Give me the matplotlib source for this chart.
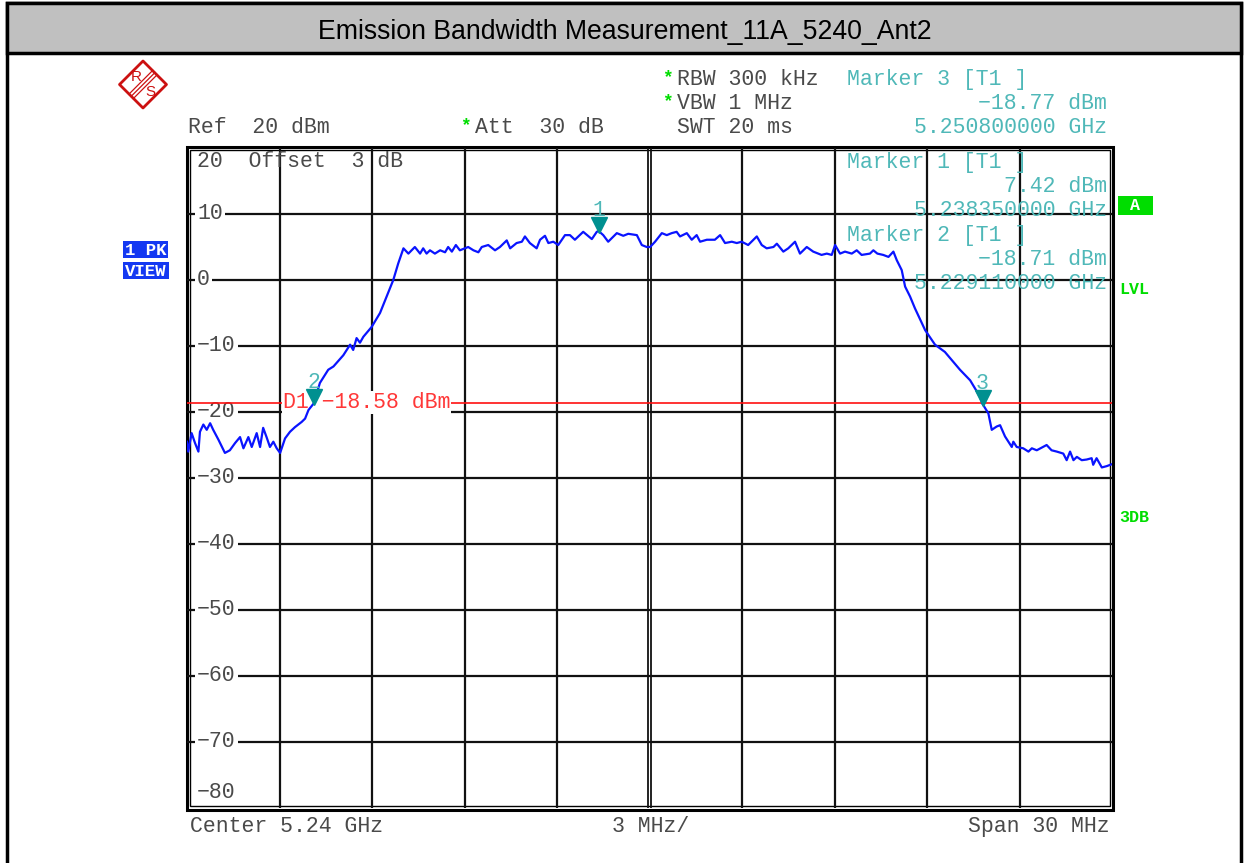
import matplotlib
matplotlib.use('Agg')
import matplotlib.pyplot as plt
import matplotlib.transforms as mtransforms
from matplotlib.patches import Rectangle, Polygon

W, H = 1245, 863

# trace: frequency (MHz) and level (dBm)
freq_mhz = [
    5225.00, 5225.04, 5225.15, 5225.26, 5225.37, 5225.42, 5225.53, 5225.64, 5225.75, 5225.85,
    5226.02, 5226.23, 5226.39, 5226.56, 5226.72, 5226.83, 5226.99, 5227.10, 5227.26, 5227.37,
    5227.47, 5227.58, 5227.69, 5227.80, 5227.91, 5228.02, 5228.18, 5228.34, 5228.50, 5228.72,
    5228.83, 5228.94, 5229.11, 5229.31, 5229.58, 5229.75, 5230.07, 5230.29, 5230.39, 5230.50,
    5230.61, 5230.72, 5230.99, 5231.26, 5231.69, 5231.85,
    5232.02, 5232.18, 5232.39, 5232.56, 5232.66, 5232.77, 5232.88, 5233.04, 5233.21, 5233.37,
    5233.47, 5233.59, 5233.72, 5233.85, 5234.12, 5234.29, 5234.45, 5234.56, 5234.77, 5234.99,
    5235.15, 5235.37, 5235.48, 5235.69, 5235.86, 5235.96, 5236.12, 5236.34, 5236.45, 5236.61,
    5236.72, 5236.88, 5237.04, 5237.26, 5237.42, 5237.58, 5237.85, 5238.13, 5238.29, 5238.35,
    5238.50, 5238.66, 5238.94, 5239.15, 5239.31, 5239.59, 5239.75, 5239.91, 5240.02, 5240.18,
    5240.40, 5240.56, 5240.72, 5240.88, 5240.99, 5241.21, 5241.37, 5241.53, 5241.64, 5241.86,
    5242.12, 5242.29, 5242.45, 5242.67, 5242.83, 5242.99, 5243.20, 5243.48, 5243.64, 5243.80,
    5244.02, 5244.13, 5244.34, 5244.50, 5244.72, 5244.88, 5245.10, 5245.31, 5245.58, 5245.75,
    5245.91, 5246.02, 5246.18, 5246.34, 5246.56, 5246.72, 5246.88, 5247.15, 5247.26, 5247.39,
    5247.58, 5247.75, 5247.91, 5248.02, 5248.18, 5248.29, 5248.45, 5248.61, 5248.94, 5249.26,
    5249.58, 5250.07, 5250.40, 5250.72, 5250.80, 5250.99, 5251.10, 5251.26, 5251.37, 5251.53,
    5251.75, 5251.80, 5251.91, 5252.12, 5252.29, 5252.40, 5252.56, 5252.88, 5253.04, 5253.21,
    5253.42, 5253.53, 5253.64, 5253.75, 5253.86, 5254.02, 5254.18, 5254.34, 5254.39, 5254.50,
    5254.67, 5254.83, 5255.00,
]
level_dbm = [
    -24.5, -26.0, -23.2, -24.7, -26.0, -23.0, -21.9, -22.7, -21.7, -22.7,
    -24.2, -26.2, -25.8, -24.7, -23.8, -25.5, -23.8, -25.3, -23.2, -25.3,
    -22.4, -23.8, -25.3, -24.5, -25.5, -26.2, -24.0, -23.0, -22.3, -21.5,
    -21.0, -19.7, -18.7, -15.6, -13.6, -13.1, -11.4, -9.8, -10.6, -8.8,
    -9.5, -8.6, -7.1, -5.0, 0.0, 2.5,
    4.8, 4.0, 5.0, 4.0, 4.8, 4.0, 4.5, 4.0, 4.5, 4.2,
    5.0, 4.3, 5.3, 4.5, 5.0, 4.5, 4.2, 5.0, 5.3, 4.5,
    5.0, 6.0, 4.8, 5.6, 5.8, 6.6, 5.6, 4.8, 6.1, 6.7,
    5.6, 5.8, 5.3, 6.8, 6.8, 6.1, 7.3, 6.2, 7.3, 7.42,
    6.8, 5.8, 7.1, 6.7, 7.0, 6.8, 5.3, 5.0, 5.0, 5.8,
    7.1, 6.8, 7.1, 7.3, 6.6, 7.1, 6.1, 6.8, 5.8, 6.1,
    6.1, 6.8, 5.6, 5.8, 5.6, 5.8, 5.3, 6.6, 5.3, 4.8,
    5.0, 5.5, 4.3, 4.8, 5.8, 4.0, 5.0, 4.3, 3.8, 4.0,
    3.8, 5.3, 4.0, 4.3, 4.0, 4.5, 3.8, 4.0, 4.5, 4.0,
    3.8, 3.5, 4.3, 3.0, 1.5, -1.0, -2.5, -4.3, -7.6, -9.8,
    -10.9, -13.6, -15.2, -17.7, -18.77, -20.2, -22.7, -22.2, -22.0, -23.7,
    -25.3, -24.5, -25.3, -25.5, -26.0, -25.5, -25.8, -25.0, -25.8, -26.0,
    -26.3, -27.3, -26.0, -27.3, -26.8, -27.3, -27.2, -27.0, -28.0, -27.0,
    -28.4, -28.2, -27.9,
]

marker_ids = ['1', '2', '3']
marker_freq_mhz = [5238.35, 5229.11, 5250.80]
marker_dbm = [7.42, -18.71, -18.77]
d1_dbm = -18.58

x_grid = [5228, 5231, 5234, 5237, 5243, 5246, 5249, 5252]
y_grid = [10, 0, -10, -20, -30, -40, -50, -60, -70]
y_labels = ['10', '0', '\u221210', '\u221220', '\u221230', '\u221240', '\u221250', '\u221260', '\u221270']

title = 'Emission Bandwidth Measurement_11A_5240_Ant2'
mono = 'Liberation Mono'
grey = '#4A4A4A'
cyan = '#4FB8B8'
green = '#00DD00'

fig = plt.figure(figsize=(W / 100, H / 100), dpi=100)

# background axes in pixel coordinates
bg = fig.add_axes([0, 0, 1, 1])
bg.set_xlim(0, W)
bg.set_ylim(H, 0)
bg.axis('off')
pix = bg.transData

bg.add_patch(Rectangle((7, 3), 1234, 880, fc='white', ec='black', lw=2.5))
bg.add_patch(Rectangle((7, 3), 1234, 50, fc='#C0C0C0', ec='black', lw=2.5))
bg.text(625, 32, title, fontsize=19.2, family='Liberation Sans', ha='center', va='center')

# R&S logo
cx, cy, r = 143, 84.5, 23.5
bg.add_patch(Polygon([(cx - r, cy), (cx, cy - r), (cx + r, cy), (cx, cy + r)],
                     closed=True, fc='white', ec='#CC1111', lw=2.0, joinstyle='round'))
for d in (-2.2, 0, 2.2):
    bg.plot([155 + d, 131 + d], [72.5 + d, 96.5 + d], color='#CC1111', lw=0.9)
bg.text(136, 77, 'R', color='#CC1111', fontsize=11, ha='center', va='center', family='Liberation Sans')
bg.text(150, 91.5, 'S', color='#CC1111', fontsize=11, ha='center', va='center', family='Liberation Sans')

# frame around the diagram
bg.add_patch(Rectangle((186.5, 147.5), 926.5, 662, fc='none', ec='black', lw=2.2))
bg.add_patch(Rectangle((189.5, 150.5), 920.5, 655.5, fc='none', ec='black', lw=1.0))

fs = 15.5
# header texts
bg.text(188, 133, 'Ref  20 dBm', family=mono, fontsize=fs, color=grey)
bg.text(460, 126, '*', family=mono, fontsize=13, color=green, fontweight='bold', va='center')
bg.text(475, 133, 'Att  30 dB', family=mono, fontsize=fs, color=grey)
bg.text(662, 78, '*', family=mono, fontsize=13, color=green, fontweight='bold', va='center')
bg.text(677, 85, 'RBW 300 kHz', family=mono, fontsize=fs, color=grey)
bg.text(662, 102, '*', family=mono, fontsize=13, color=green, fontweight='bold', va='center')
bg.text(677, 109, 'VBW 1 MHz', family=mono, fontsize=fs, color=grey)
bg.text(677, 133, 'SWT 20 ms', family=mono, fontsize=fs, color=grey)
bg.text(847, 85, 'Marker 3 [T1 ]', family=mono, fontsize=fs, color=cyan)
bg.text(1107, 109, '\u221218.77 dBm', family=mono, fontsize=fs, color=cyan, ha='right')
bg.text(1107, 133, '5.250800000 GHz', family=mono, fontsize=fs, color=cyan, ha='right')

# footer texts
bg.text(190, 832, 'Center 5.24 GHz', family=mono, fontsize=fs, color=grey)
bg.text(612, 832, '3 MHz/', family=mono, fontsize=fs, color=grey)
bg.text(1110, 832, 'Span 30 MHz', family=mono, fontsize=fs, color=grey, ha='right')

# side labels
bg.add_patch(Rectangle((123, 241), 45, 17, fc='#1438F2', ec='none'))
bg.add_patch(Rectangle((123, 262), 46, 17, fc='#1438F2', ec='none'))
bg.text(145.5, 250, '1 PK', family=mono, fontsize=12.5, color='white', fontweight='bold', ha='center', va='center')
bg.text(146, 271, 'VIEW', family=mono, fontsize=12.5, color='white', fontweight='bold', ha='center', va='center')
bg.add_patch(Rectangle((1118, 196), 35, 19, fc=green, ec='none'))
bg.text(1135.5, 205.5, 'A', family=mono, fontsize=12, color='white', fontweight='bold', ha='center', va='center')
bg.text(1119, 294, 'LVL', family=mono, fontsize=12, color=green, fontweight='bold')
bg.text(1119, 522, '3DB', family=mono, fontsize=12, color=green, fontweight='bold')

# diagram axes
ax = fig.add_axes([187 / W, 1 - 808 / H, (1112 - 187) / W, (808 - 148) / H])
ax.set_facecolor('none')
ax.set_xlim(5225, 5255)
ax.set_ylim(-80, 20)
ax.set_xticks([])
ax.set_yticks([])
for s in ax.spines.values():
    s.set_visible(False)

for xg in x_grid:
    ax.axvline(xg, color='#111111', lw=1.6, zorder=1)
for xg in (5239.94, 5240.06):
    ax.axvline(xg, color='#111111', lw=1.3, zorder=1)
for yg in y_grid:
    ax.axhline(yg, color='#111111', lw=1.6, zorder=1)

ylab_tr = mtransforms.offset_copy(
    mtransforms.blended_transform_factory(ax.transAxes, ax.transData), fig, x=10, y=-5, units='dots')
for yg, lab in zip(y_grid, y_labels):
    ax.text(0, yg, lab, transform=ylab_tr, family=mono, fontsize=fs, color=grey,
            va='baseline', zorder=3, bbox=dict(boxstyle='square,pad=0.1', fc='white', ec='none'))
ax.text(197, 798, '\u221280', transform=pix, family=mono, fontsize=fs, color=grey, zorder=3)
ax.text(197, 167, '20  Offset  3 dB', transform=pix, family=mono, fontsize=fs, color=grey, zorder=3)

# marker info inside the diagram
ax.text(847, 168, 'Marker 1 [T1 ]', transform=pix, family=mono, fontsize=fs, color=cyan, zorder=3)
ax.text(1107, 192, '7.42 dBm', transform=pix, family=mono, fontsize=fs, color=cyan, ha='right', zorder=3)
ax.text(1107, 216, '5.238350000 GHz', transform=pix, family=mono, fontsize=fs, color=cyan, ha='right', zorder=3)
ax.text(847, 241, 'Marker 2 [T1 ]', transform=pix, family=mono, fontsize=fs, color=cyan, zorder=3)
ax.text(1107, 265, '\u221218.71 dBm', transform=pix, family=mono, fontsize=fs, color=cyan, ha='right', zorder=3)
ax.text(1107, 289, '5.229110000 GHz', transform=pix, family=mono, fontsize=fs, color=cyan, ha='right', zorder=3)

# display line D1
ax.axhline(d1_dbm, color='#FF1010', lw=1.2, zorder=3.5)
d1_tr = mtransforms.offset_copy(ax.transData, fig, x=0, y=-5, units='dots')
ax.text(5228.1, d1_dbm, 'D1 \u221218.58 dBm', transform=d1_tr, family=mono, fontsize=fs,
        color='#FF3838', va='baseline', zorder=4,
        bbox=dict(boxstyle='square,pad=0.05', fc='white', ec='none'))

# trace
ax.plot(freq_mhz, level_dbm, color='#0A14FF', lw=1.6, zorder=5)

# markers
tri_tr = mtransforms.offset_copy(ax.transData, fig, x=0, y=6, units='dots')
num_tr = mtransforms.offset_copy(ax.transData, fig, x=0, y=15, units='dots')
for mid, mf, md in zip(marker_ids, marker_freq_mhz, marker_dbm):
    ax.plot([mf], [md], marker='v', ms=11, color='#009090', transform=tri_tr, zorder=6, clip_on=False)
    ax.text(mf, md, mid, transform=num_tr, family=mono, fontsize=fs, color=cyan,
            ha='center', va='baseline', zorder=6)

fig.savefig('out.png', dpi=100)
